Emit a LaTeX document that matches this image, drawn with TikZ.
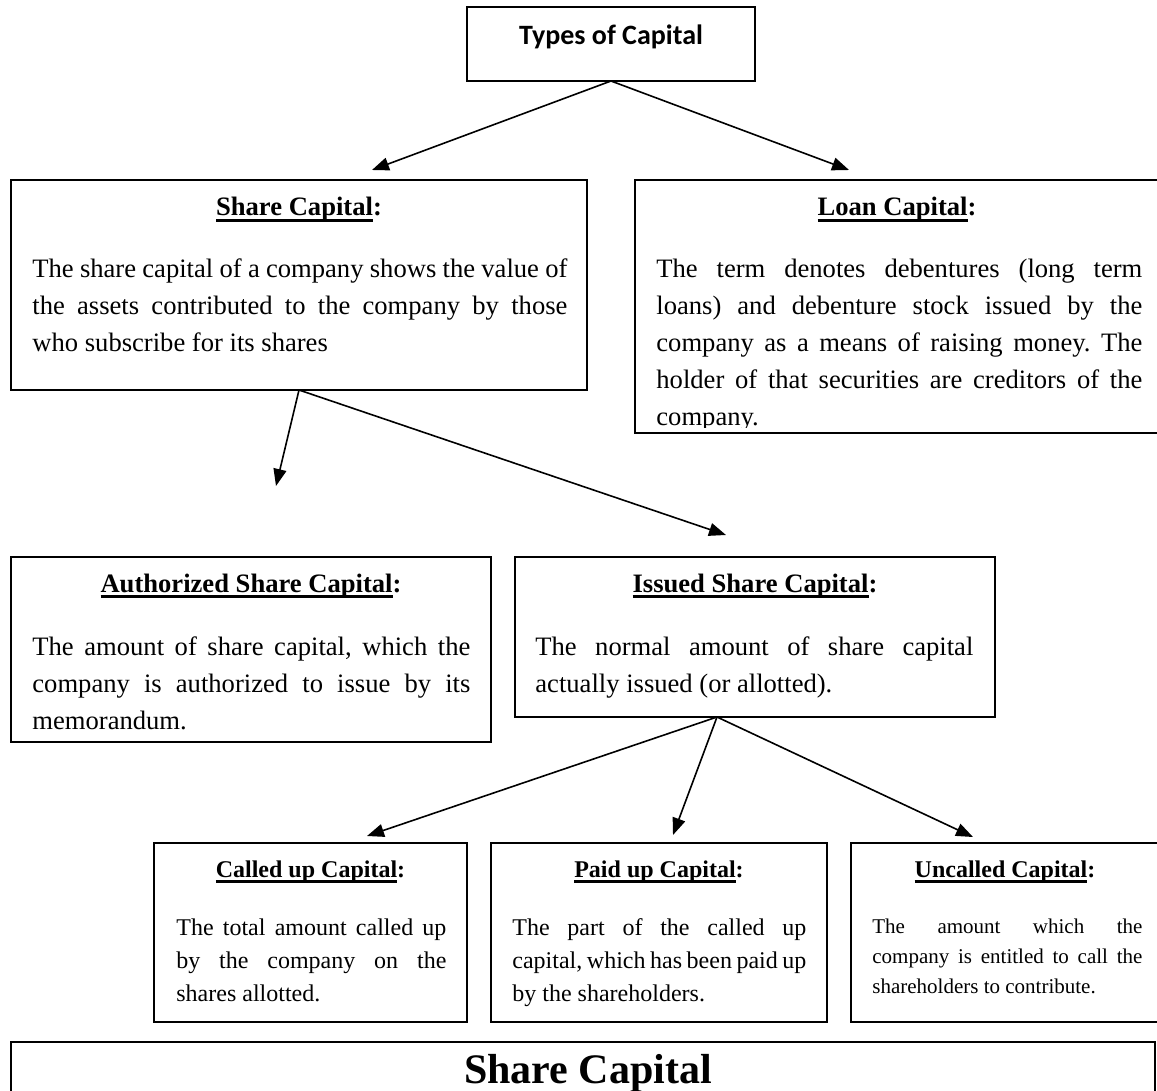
\documentclass[tikz,border=0pt]{standalone}
\usepackage{fontspec}
\setmainfont{Liberation Serif}
\newfontfamily\calibri{Carlito}
\usetikzlibrary{shapes, positioning, arrows.meta}
\frenchspacing

\newcommand{\ulhead}[1]{\setbox0=\hbox{#1}\rlap{\rule[-2.8pt]{\wd0}{1.2pt}}\box0}

\tikzset{
  >={Triangle[length=8.5pt,width=6.5pt]},
  box/.style={draw, line width=1pt, inner sep=0pt, outer sep=0pt},
  head/.style={anchor=base, inner sep=0pt, font=\bfseries\fontsize{13.3}{16}\selectfont},
  subhead/.style={anchor=base, inner sep=0pt, font=\bfseries\fontsize{12}{14}\selectfont},
  body/.style={anchor=base west, inner sep=0pt, align=justify, font=\fontsize{13.3}{18.5}\selectfont},
  small/.style={anchor=base west, inner sep=0pt, align=justify, font=\fontsize{12}{16.5}\selectfont},
  link/.style={->, line width=0.8pt},
}

\begin{document}
\begin{tikzpicture}[x=0.5pt, y=-0.5pt]
    \useasboundingbox (0,0) rectangle (1157,1091);

    % top level
    \node[box, minimum width=144pt, minimum height=37pt] (types) at (611,44) {};
    \node[inner sep=0pt, anchor=base, font=\calibri\bfseries\fontsize{14}{16}\selectfont] (typeslbl) at (611,45) {Types of Capital};

    \node[box, minimum width=288pt, minimum height=105pt] (share) at (299,285) {};
    \node[head] (sharehd) at (299,216) {\ulhead{Share Capital}:};
    \node[body, text width=267.5pt] (sharetxt) at (32,278) {The share capital of a company shows the value of\linebreak the assets contributed to the company by those\linebreak who subscribe for its shares};

    \node[box, minimum width=262.5pt, minimum height=126.5pt] (loan) at (897.5,306.5) {};
    \node[head] (loanhd) at (897,216) {\ulhead{Loan Capital}:};
    \begin{scope}
        \clip (635,180) rectangle (1160,427);
        \node[body, text width=243pt] (loantxt) at (656,278) {The term denotes debentures (long term\linebreak loans) and debenture stock issued by the\linebreak company as a means of raising money. The\linebreak holder of that securities are creditors of the\linebreak company.};
    \end{scope}

    % share capital split
    \node[box, minimum width=240pt, minimum height=92.5pt] (auth) at (251,649.5) {};
    \node[head] (authhd) at (251,592) {\ulhead{Authorized Share Capital}:};
    \node[body, text width=219pt] (authtxt) at (32,655) {The amount of share capital, which the\linebreak company is authorized to issue by its\linebreak memorandum.};

    \node[box, minimum width=240pt, minimum height=80pt] (issued) at (755,637) {};
    \node[head] (issuedhd) at (755,592) {\ulhead{Issued Share Capital}:};
    \node[body, text width=219pt] (issuedtxt) at (535,655) {The normal amount of share capital\linebreak actually issued (or allotted).};

    % issued capital split
    \node[box, minimum width=156.5pt, minimum height=89.5pt] (called) at (310.5,932.5) {};
    \node[subhead] (calledhd) at (310.5,877) {\ulhead{Called up Capital}:};
    \node[small, text width=135pt] (calledtxt) at (176,935) {The total amount called up\linebreak by the company on the\linebreak shares allotted.};

    \node[box, minimum width=168pt, minimum height=89.5pt] (paid) at (659,932.5) {};
    \node[subhead] (paidhd) at (659,877) {\ulhead{Paid up Capital}:};
    \node[small, text width=147pt] (paidtxt) at (512,935) {The part of the called up\linebreak capital, which has been paid up\linebreak by the shareholders.};

    \node[box, minimum width=154.5pt, minimum height=89.5pt] (uncalled) at (1005.5,932.5) {};
    \node[subhead] (uncalledhd) at (1005,877) {\ulhead{Uncalled Capital}:};
    \node[small, text width=135pt, font=\fontsize{10.5}{15}\selectfont] (uncalledtxt) at (872,933) {The amount which the\linebreak company is entitled to call the\linebreak shareholders to contribute.};

    % caption
    \node[box, minimum width=572pt, minimum height=34pt] (caption) at (583,1076) {};
    \node[inner sep=0pt, anchor=base, font=\bfseries\fontsize{21}{24}\selectfont] (captionlbl) at (588,1083) {Share Capital};

    % arrows
    \coordinate (tl) at (372,170);
    \coordinate (tr) at (849,170);
    \coordinate (sl) at (276,486);
    \coordinate (sr) at (726,535);
    \coordinate (fork) at (717,717);
    \coordinate (il) at (367,836);
    \coordinate (im) at (673,835);
    \coordinate (ir) at (973,837);

    \draw[link] (types.south) -- (tl);
    \draw[link] (types.south) -- (tr);
    \draw[link] (share.south) -- (sl);
    \draw[link] (share.south) -- (sr);
    \draw[link] (fork) -- (il);
    \draw[link] (fork) -- (im);
    \draw[link] (fork) -- (ir);
\end{tikzpicture}
\end{document}
